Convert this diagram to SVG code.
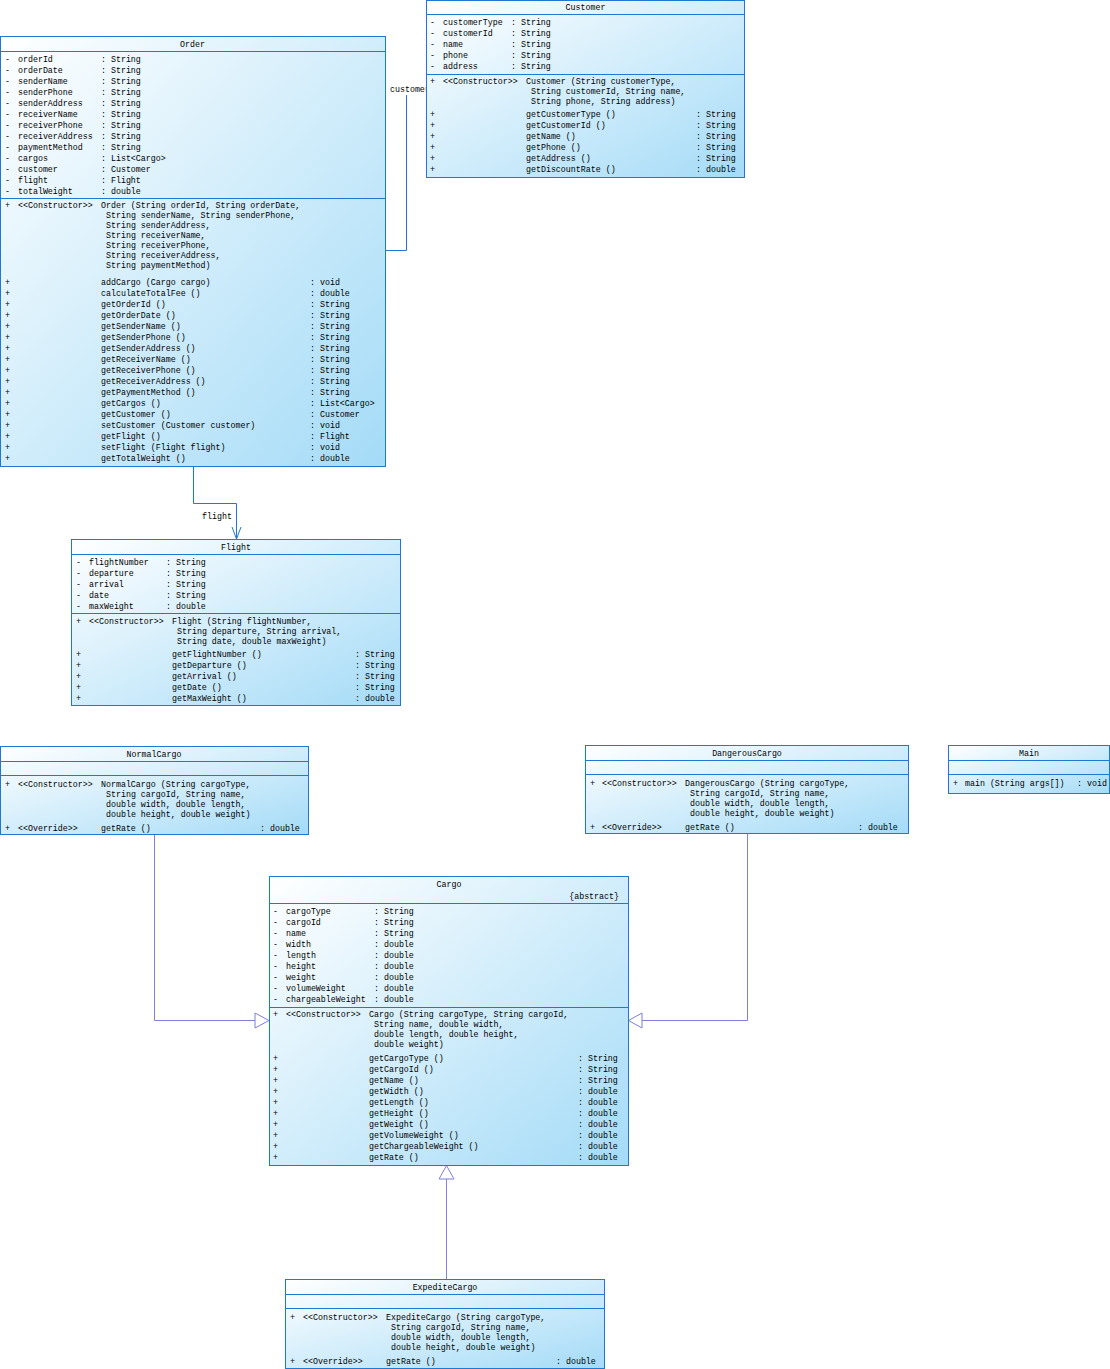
<svg xmlns="http://www.w3.org/2000/svg" width="1110" height="1369" viewBox="0 0 1110 1369">
<defs>
<linearGradient id="g" x1="0" y1="0" x2="1" y2="1">
<stop offset="0" stop-color="#ffffff"/>
<stop offset="1" stop-color="#a4dbf7"/>
</linearGradient>
<style>
text{font-family:"Liberation Mono","DejaVu Sans Mono",monospace;font-size:8.3px;fill:#000}
.c{text-anchor:middle}
.e{text-anchor:end}
.box{fill:url(#g);stroke:#1f78d2;stroke-width:1}
.sep{stroke:#1f78d2;stroke-width:1}
.asc{stroke:#1f78d2;fill:none;stroke-width:1}
.gen{stroke:#7f7fdc;fill:none;stroke-width:1}
.tri{stroke:#7f7fdc;fill:#fff;stroke-width:1}
</style>
</defs>
<rect width="1110" height="1369" fill="#fff"/>

<g id="connectors">
<polyline class="asc" points="385,250.5 406.5,250.5 406.5,95"/>
<text x="390" y="92">customer</text>
<polyline class="asc" points="193.5,466 193.5,503.5 236.5,503.5 236.5,539"/>
<polyline class="asc" points="232,527 236.5,539 241,527"/>
<text x="202" y="519">flight</text>
<polyline class="gen" points="154.5,834 154.5,1020.5 255,1020.5"/>
<polygon class="tri" points="255,1013 269,1020.5 255,1028"/>
<polyline class="gen" points="747.5,834 747.5,1020.5 642,1020.5"/>
<polygon class="tri" points="642,1013 628.5,1020.5 642,1028"/>
<line class="gen" x1="446.5" y1="1279" x2="446.5" y2="1179"/>
<polygon class="tri" points="439,1179 446.5,1165.5 454,1179"/>
</g>

<g id="Order">
<rect class="box" x="0.5" y="36.5" width="385" height="430"/>
<line class="sep" x1="0.5" y1="51.5" x2="385.5" y2="51.5"/>
<line class="sep" x1="0.5" y1="198.5" x2="385.5" y2="198.5"/>
<text class="c" x="192.5" y="47">Order</text>
<text x="5" y="62">-</text><text x="18" y="62">orderId</text><text x="101" y="62">: String</text>
<text x="5" y="73">-</text><text x="18" y="73">orderDate</text><text x="101" y="73">: String</text>
<text x="5" y="84">-</text><text x="18" y="84">senderName</text><text x="101" y="84">: String</text>
<text x="5" y="95">-</text><text x="18" y="95">senderPhone</text><text x="101" y="95">: String</text>
<text x="5" y="106">-</text><text x="18" y="106">senderAddress</text><text x="101" y="106">: String</text>
<text x="5" y="117">-</text><text x="18" y="117">receiverName</text><text x="101" y="117">: String</text>
<text x="5" y="128">-</text><text x="18" y="128">receiverPhone</text><text x="101" y="128">: String</text>
<text x="5" y="139">-</text><text x="18" y="139">receiverAddress</text><text x="101" y="139">: String</text>
<text x="5" y="150">-</text><text x="18" y="150">paymentMethod</text><text x="101" y="150">: String</text>
<text x="5" y="161">-</text><text x="18" y="161">cargos</text><text x="101" y="161">: List&lt;Cargo&gt;</text>
<text x="5" y="172">-</text><text x="18" y="172">customer</text><text x="101" y="172">: Customer</text>
<text x="5" y="183">-</text><text x="18" y="183">flight</text><text x="101" y="183">: Flight</text>
<text x="5" y="194">-</text><text x="18" y="194">totalWeight</text><text x="101" y="194">: double</text>
<text x="5" y="208">+</text><text x="18" y="208">&lt;&lt;Constructor&gt;&gt;</text><text x="101" y="208">Order (String orderId, String orderDate,</text>
<text x="106" y="218">String senderName, String senderPhone,</text>
<text x="106" y="228">String senderAddress,</text>
<text x="106" y="238">String receiverName,</text>
<text x="106" y="248">String receiverPhone,</text>
<text x="106" y="258">String receiverAddress,</text>
<text x="106" y="268">String paymentMethod)</text>
<text x="5" y="285">+</text><text x="101" y="285">addCargo (Cargo cargo)</text><text x="310" y="285">: void</text>
<text x="5" y="296">+</text><text x="101" y="296">calculateTotalFee ()</text><text x="310" y="296">: double</text>
<text x="5" y="307">+</text><text x="101" y="307">getOrderId ()</text><text x="310" y="307">: String</text>
<text x="5" y="318">+</text><text x="101" y="318">getOrderDate ()</text><text x="310" y="318">: String</text>
<text x="5" y="329">+</text><text x="101" y="329">getSenderName ()</text><text x="310" y="329">: String</text>
<text x="5" y="340">+</text><text x="101" y="340">getSenderPhone ()</text><text x="310" y="340">: String</text>
<text x="5" y="351">+</text><text x="101" y="351">getSenderAddress ()</text><text x="310" y="351">: String</text>
<text x="5" y="362">+</text><text x="101" y="362">getReceiverName ()</text><text x="310" y="362">: String</text>
<text x="5" y="373">+</text><text x="101" y="373">getReceiverPhone ()</text><text x="310" y="373">: String</text>
<text x="5" y="384">+</text><text x="101" y="384">getReceiverAddress ()</text><text x="310" y="384">: String</text>
<text x="5" y="395">+</text><text x="101" y="395">getPaymentMethod ()</text><text x="310" y="395">: String</text>
<text x="5" y="406">+</text><text x="101" y="406">getCargos ()</text><text x="310" y="406">: List&lt;Cargo&gt;</text>
<text x="5" y="417">+</text><text x="101" y="417">getCustomer ()</text><text x="310" y="417">: Customer</text>
<text x="5" y="428">+</text><text x="101" y="428">setCustomer (Customer customer)</text><text x="310" y="428">: void</text>
<text x="5" y="439">+</text><text x="101" y="439">getFlight ()</text><text x="310" y="439">: Flight</text>
<text x="5" y="450">+</text><text x="101" y="450">setFlight (Flight flight)</text><text x="310" y="450">: void</text>
<text x="5" y="461">+</text><text x="101" y="461">getTotalWeight ()</text><text x="310" y="461">: double</text>
</g>

<g id="Customer">
<rect class="box" x="426.5" y="0.5" width="318" height="177"/>
<line class="sep" x1="426.5" y1="14.5" x2="744.5" y2="14.5"/>
<line class="sep" x1="426.5" y1="74.5" x2="744.5" y2="74.5"/>
<text class="c" x="585.5" y="10">Customer</text>
<text x="430" y="25">-</text><text x="443" y="25">customerType</text><text x="511" y="25">: String</text>
<text x="430" y="36">-</text><text x="443" y="36">customerId</text><text x="511" y="36">: String</text>
<text x="430" y="47">-</text><text x="443" y="47">name</text><text x="511" y="47">: String</text>
<text x="430" y="58">-</text><text x="443" y="58">phone</text><text x="511" y="58">: String</text>
<text x="430" y="69">-</text><text x="443" y="69">address</text><text x="511" y="69">: String</text>
<text x="430" y="84">+</text><text x="443" y="84">&lt;&lt;Constructor&gt;&gt;</text><text x="526" y="84">Customer (String customerType,</text>
<text x="531" y="94">String customerId, String name,</text>
<text x="531" y="104">String phone, String address)</text>
<text x="430" y="117">+</text><text x="526" y="117">getCustomerType ()</text><text x="696" y="117">: String</text>
<text x="430" y="128">+</text><text x="526" y="128">getCustomerId ()</text><text x="696" y="128">: String</text>
<text x="430" y="139">+</text><text x="526" y="139">getName ()</text><text x="696" y="139">: String</text>
<text x="430" y="150">+</text><text x="526" y="150">getPhone ()</text><text x="696" y="150">: String</text>
<text x="430" y="161">+</text><text x="526" y="161">getAddress ()</text><text x="696" y="161">: String</text>
<text x="430" y="172">+</text><text x="526" y="172">getDiscountRate ()</text><text x="696" y="172">: double</text>
</g>

<g id="Flight">
<rect class="box" x="71.5" y="539.5" width="329" height="166"/>
<line class="sep" x1="71.5" y1="554.5" x2="400.5" y2="554.5"/>
<line class="sep" x1="71.5" y1="613.5" x2="400.5" y2="613.5"/>
<text class="c" x="236" y="550">Flight</text>
<text x="76" y="565">-</text><text x="89" y="565">flightNumber</text><text x="166" y="565">: String</text>
<text x="76" y="576">-</text><text x="89" y="576">departure</text><text x="166" y="576">: String</text>
<text x="76" y="587">-</text><text x="89" y="587">arrival</text><text x="166" y="587">: String</text>
<text x="76" y="598">-</text><text x="89" y="598">date</text><text x="166" y="598">: String</text>
<text x="76" y="609">-</text><text x="89" y="609">maxWeight</text><text x="166" y="609">: double</text>
<text x="76" y="624">+</text><text x="89" y="624">&lt;&lt;Constructor&gt;&gt;</text><text x="172" y="624">Flight (String flightNumber,</text>
<text x="177" y="634">String departure, String arrival,</text>
<text x="177" y="644">String date, double maxWeight)</text>
<text x="76" y="657">+</text><text x="172" y="657">getFlightNumber ()</text><text x="355" y="657">: String</text>
<text x="76" y="668">+</text><text x="172" y="668">getDeparture ()</text><text x="355" y="668">: String</text>
<text x="76" y="679">+</text><text x="172" y="679">getArrival ()</text><text x="355" y="679">: String</text>
<text x="76" y="690">+</text><text x="172" y="690">getDate ()</text><text x="355" y="690">: String</text>
<text x="76" y="701">+</text><text x="172" y="701">getMaxWeight ()</text><text x="355" y="701">: double</text>
</g>

<g id="NormalCargo">
<rect class="box" x="0.5" y="746.5" width="308" height="88"/>
<line class="sep" x1="0.5" y1="761.5" x2="308.5" y2="761.5"/>
<line class="sep" x1="0.5" y1="775.5" x2="308.5" y2="775.5"/>
<text class="c" x="154" y="757">NormalCargo</text>
<text x="5" y="787">+</text><text x="18" y="787">&lt;&lt;Constructor&gt;&gt;</text><text x="101" y="787">NormalCargo (String cargoType,</text>
<text x="106" y="797">String cargoId, String name,</text>
<text x="106" y="807">double width, double length,</text>
<text x="106" y="817">double height, double weight)</text>
<text x="5" y="831">+</text><text x="18" y="831">&lt;&lt;Override&gt;&gt;</text><text x="101" y="831">getRate ()</text><text x="260" y="831">: double</text>
</g>

<g id="DangerousCargo">
<rect class="box" x="585.5" y="745.5" width="323" height="88"/>
<line class="sep" x1="585.5" y1="760.5" x2="908.5" y2="760.5"/>
<line class="sep" x1="585.5" y1="774.5" x2="908.5" y2="774.5"/>
<text class="c" x="747" y="756">DangerousCargo</text>
<text x="590" y="786">+</text><text x="602" y="786">&lt;&lt;Constructor&gt;&gt;</text><text x="685" y="786">DangerousCargo (String cargoType,</text>
<text x="690" y="796">String cargoId, String name,</text>
<text x="690" y="806">double width, double length,</text>
<text x="690" y="816">double height, double weight)</text>
<text x="590" y="830">+</text><text x="602" y="830">&lt;&lt;Override&gt;&gt;</text><text x="685" y="830">getRate ()</text><text x="858" y="830">: double</text>
</g>

<g id="Main">
<rect class="box" x="948.5" y="745.5" width="161" height="48"/>
<line class="sep" x1="948.5" y1="760.5" x2="1109.5" y2="760.5"/>
<line class="sep" x1="948.5" y1="774.5" x2="1109.5" y2="774.5"/>
<text class="c" x="1029" y="756">Main</text>
<text x="953" y="786">+</text><text x="965" y="786">main (String args[])</text><text x="1077" y="786">: void</text>
</g>

<g id="Cargo">
<rect class="box" x="269.5" y="876.5" width="359" height="289"/>
<line class="sep" x1="269.5" y1="903.5" x2="628.5" y2="903.5"/>
<line class="sep" x1="269.5" y1="1007.5" x2="628.5" y2="1007.5"/>
<text class="c" x="449" y="887">Cargo</text>
<text class="e" x="619" y="899">{abstract}</text>
<text x="273" y="914">-</text><text x="286" y="914">cargoType</text><text x="374" y="914">: String</text>
<text x="273" y="925">-</text><text x="286" y="925">cargoId</text><text x="374" y="925">: String</text>
<text x="273" y="936">-</text><text x="286" y="936">name</text><text x="374" y="936">: String</text>
<text x="273" y="947">-</text><text x="286" y="947">width</text><text x="374" y="947">: double</text>
<text x="273" y="958">-</text><text x="286" y="958">length</text><text x="374" y="958">: double</text>
<text x="273" y="969">-</text><text x="286" y="969">height</text><text x="374" y="969">: double</text>
<text x="273" y="980">-</text><text x="286" y="980">weight</text><text x="374" y="980">: double</text>
<text x="273" y="991">-</text><text x="286" y="991">volumeWeight</text><text x="374" y="991">: double</text>
<text x="273" y="1002">-</text><text x="286" y="1002">chargeableWeight</text><text x="374" y="1002">: double</text>
<text x="273" y="1017">+</text><text x="286" y="1017">&lt;&lt;Constructor&gt;&gt;</text><text x="369" y="1017">Cargo (String cargoType, String cargoId,</text>
<text x="374" y="1027">String name, double width,</text>
<text x="374" y="1037">double length, double height,</text>
<text x="374" y="1047">double weight)</text>
<text x="273" y="1061">+</text><text x="369" y="1061">getCargoType ()</text><text x="578" y="1061">: String</text>
<text x="273" y="1072">+</text><text x="369" y="1072">getCargoId ()</text><text x="578" y="1072">: String</text>
<text x="273" y="1083">+</text><text x="369" y="1083">getName ()</text><text x="578" y="1083">: String</text>
<text x="273" y="1094">+</text><text x="369" y="1094">getWidth ()</text><text x="578" y="1094">: double</text>
<text x="273" y="1105">+</text><text x="369" y="1105">getLength ()</text><text x="578" y="1105">: double</text>
<text x="273" y="1116">+</text><text x="369" y="1116">getHeight ()</text><text x="578" y="1116">: double</text>
<text x="273" y="1127">+</text><text x="369" y="1127">getWeight ()</text><text x="578" y="1127">: double</text>
<text x="273" y="1138">+</text><text x="369" y="1138">getVolumeWeight ()</text><text x="578" y="1138">: double</text>
<text x="273" y="1149">+</text><text x="369" y="1149">getChargeableWeight ()</text><text x="578" y="1149">: double</text>
<text x="273" y="1160">+</text><text x="369" y="1160">getRate ()</text><text x="578" y="1160">: double</text>
</g>

<g id="ExpediteCargo">
<rect class="box" x="285.5" y="1279.5" width="319" height="89"/>
<line class="sep" x1="285.5" y1="1294.5" x2="604.5" y2="1294.5"/>
<line class="sep" x1="285.5" y1="1308.5" x2="604.5" y2="1308.5"/>
<text class="c" x="445" y="1290">ExpediteCargo</text>
<text x="290" y="1320">+</text><text x="303" y="1320">&lt;&lt;Constructor&gt;&gt;</text><text x="386" y="1320">ExpediteCargo (String cargoType,</text>
<text x="391" y="1330">String cargoId, String name,</text>
<text x="391" y="1340">double width, double length,</text>
<text x="391" y="1350">double height, double weight)</text>
<text x="290" y="1364">+</text><text x="303" y="1364">&lt;&lt;Override&gt;&gt;</text><text x="386" y="1364">getRate ()</text><text x="556" y="1364">: double</text>
</g>
</svg>
